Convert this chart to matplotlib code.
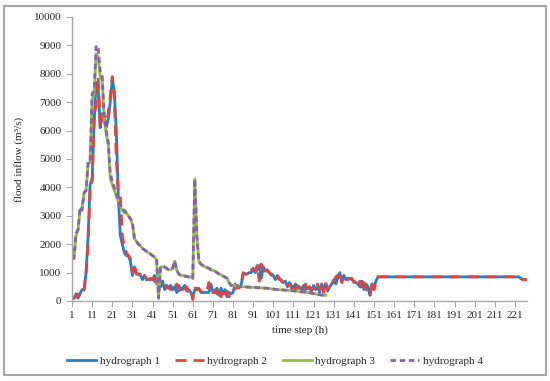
import matplotlib
matplotlib.use("Agg")
import matplotlib.pyplot as plt
from matplotlib.patches import Rectangle

# hourly flood inflow (m3/s)
h1 = [
    100, 100, 250, 100, 250, 400, 400, 1000, 2300, 4100,
    4300, 6300, 7700, 7500, 6100, 6600, 6500, 6100, 6400, 7000,
    7800, 7400, 6000, 3700, 2300, 2000, 1700, 1600, 1600, 1400,
    900, 1200, 950, 950, 900, 750, 900, 750, 750, 800,
    750, 900, 600, 600, 500, 700, 400, 550, 450, 550,
    400, 500, 300, 550, 400, 450, 550, 350, 400, 300,
    150, 400, 450, 400, 350, 300, 300, 300, 300, 600,
    300, 300, 450, 200, 450, 250, 400, 150, 300, 250,
    300, 600, 450, 500, 550, 950, 950, 950, 1000, 1000,
    1150, 1000, 1100, 1250, 800, 1200, 1050, 1100, 1000, 950,
    900, 750, 900, 800, 700, 650, 700, 500, 650, 550,
    450, 600, 450, 500, 400, 550, 400, 450, 500, 350,
    550, 400, 500, 300, 600, 400, 600, 350, 500, 600,
    750, 600, 800, 1000, 700, 900, 750, 800, 800, 750,
    700, 650, 600, 500, 700, 400, 600, 500, 200, 600,
    500, 700, 850, 850, 850, 850, 850, 850, 850, 850,
    850, 850, 850, 850, 850, 850, 850, 850, 850, 850,
    850, 850, 850, 850, 850, 850, 850, 850, 850, 850,
    850, 850, 850, 850, 850, 850, 850, 850, 850, 850,
    850, 850, 850, 850, 850, 850, 850, 850, 850, 850,
    850, 850, 850, 850, 850, 850, 850, 850, 850, 850,
    850, 850, 850, 850, 850, 850, 850, 850, 850, 850,
    850, 850, 850, 780, 750, 750, 750,
]
h2 = [
    100, 100, 150, 250, 150, 300, 400, 1000, 2000, 4000,
    4200, 6400, 7000, 7900, 6200, 6500, 6300, 6200, 6600, 7200,
    7900, 7200, 5000, 3800, 3700, 2300, 1900, 1700, 1600, 1500,
    1000, 1300, 950, 950, 950, 800, 900, 800, 750, 750,
    950, 700, 650, 550, 600, 550, 600, 450, 500, 400,
    500, 450, 600, 350, 500, 400, 450, 500, 300, 400,
    50, 450, 400, 450, 300, 300, 300, 350, 650, 300,
    300, 400, 250, 450, 150, 400, 250, 350, 150, 300,
    350, 450, 550, 450, 600, 1000, 950, 950, 950, 1100,
    1100, 1050, 1250, 700, 1300, 1000, 1100, 1050, 1000, 900,
    950, 800, 850, 750, 750, 600, 700, 550, 600, 450,
    600, 400, 550, 450, 500, 350, 600, 300, 500, 400,
    450, 350, 600, 400, 650, 300, 650, 400, 600, 700,
    650, 850, 900, 1050, 650, 850, 800, 750, 800, 800,
    650, 700, 550, 700, 400, 650, 450, 300, 150, 700,
    400, 650, 850, 850, 850, 850, 850, 850, 850, 850,
    850, 850, 850, 850, 850, 850, 850, 850, 850, 850,
    850, 850, 850, 850, 850, 850, 850, 850, 850, 850,
    850, 850, 850, 850, 850, 850, 850, 850, 850, 850,
    850, 850, 850, 850, 850, 850, 850, 850, 850, 850,
    850, 850, 850, 850, 850, 850, 850, 850, 850, 850,
    850, 850, 850, 850, 850, 850, 850, 850, 850, 850,
    850, 850, 850, 800, 750, 750, 750,
]
h3 = [
    1500, 1500, 2300, 2500, 3200, 3300, 3800, 3900, 4800, 4900,
    7100, 7300, 8700, 8600, 7900, 7800, 6400, 5900, 5500, 4300,
    4100, 3900, 3700, 3500, 3300, 3200, 3100, 3100, 3000, 2900,
    2700, 2200, 2100, 2000, 1950, 1850, 1800, 1750, 1700, 1650,
    1600, 1550, 1450, 100, 1200, 1200, 1200, 1150, 1100, 1100,
    1150, 1400, 1100, 950, 900, 900, 880, 860, 850, 850,
    800, 4300, 2300, 1400, 1300, 1250, 1200, 1180, 1150, 1100,
    1080, 1050, 1000, 950, 920, 880, 840, 800, 650, 550,
    550, 550, 530, 520, 510, 500, 500, 490, 490, 480,
    480, 480, 470, 470, 460, 460, 450, 450, 440, 430,
    420, 410, 400, 400, 390, 390, 380, 380, 370, 370,
    360, 350, 340, 330, 320, 320, 310, 300, 290, 280,
    260, 250, 230, 220, 210, 200, 200,
]
h4 = [
    1500, 1500, 2400, 2500, 3300, 3200, 3800, 3900, 4900, 4900,
    7300, 7400, 9000, 8900, 8100, 7900, 6600, 6000, 5600, 4500,
    4200, 4000, 3800, 3500, 3300, 3200, 3200, 3100, 3000, 2900,
    2800, 2200, 2100, 2000, 1950, 1850, 1800, 1750, 1700, 1650,
    1600, 1550, 1500, 100, 1200, 1200, 1200, 1150, 1100, 1100,
    1150, 1400, 1100, 950, 900, 900, 880, 860, 850, 850,
    800, 4300, 2300, 1400, 1300, 1250, 1200, 1180, 1150, 1100,
    1080, 1050, 1000, 950, 920, 880, 840, 800, 650, 550,
    550, 550, 530, 520, 510, 500, 500, 490, 490, 480,
    480, 480, 470, 470, 460, 460, 450, 450, 440, 430,
    420, 410, 400, 400, 390, 390, 380, 380, 370, 370,
    360, 350, 340, 330, 320, 320, 310, 300, 290, 280,
    260, 250, 230, 220, 210, 200, 200,
]
series = [("hydrograph 1", h1), ("hydrograph 2", h2),
          ("hydrograph 3", h3), ("hydrograph 4", h4)]
colors = ["#1E7FCB", "#E8413C", "#8CBF3F", "#8B5FB0"]
dashes = [None, (4, 2.5), None, (2, 1.3)]

plt.rcParams["font.family"] = ["Liberation Serif", "DejaVu Serif"]
txt = "#262626"

fig = plt.figure(figsize=(5.5, 3.81), dpi=100)
ax = fig.add_axes([72 / 550, 1 - 301 / 381, 455 / 550, 284 / 381])

for (name, vals), c, d in zip(series, colors, dashes):
    t = list(range(1, len(vals) + 1))
    line, = ax.plot(t, vals, color=c, lw=2.0, label=name)
    if d:
        line.set_dashes(d)

ax.set_xlim(1, 227)
ax.set_ylim(0, 10000)
ax.set_xticks(range(1, 222, 10))
ax.set_yticks(range(0, 10001, 1000))
for s in ("top", "right"):
    ax.spines[s].set_visible(False)
for s in ("left", "bottom"):
    ax.spines[s].set_color("#A6A6A6")
    ax.spines[s].set_linewidth(1.0)
ax.tick_params(colors="#A6A6A6", labelcolor=txt, labelsize=8, length=4)

ax.set_xlabel("time step (h)", fontsize=8, color=txt)
ax.xaxis.set_label_coords(0.5, -0.085)
ax.set_ylabel("flood inflow (m³/s)", fontsize=8, color=txt)
ax.yaxis.set_label_coords(-0.105, 0.5)

fig.legend(loc="center", bbox_to_anchor=(0.5, 1 - 361 / 381), ncol=4,
           frameon=False, fontsize=8, handlelength=2.6, columnspacing=1.4,
           handletextpad=0.3, labelcolor=txt)

fig.patches.append(Rectangle((4 / 550, 6 / 381), 542 / 550, 369 / 381,
                             transform=fig.transFigure, fill=False,
                             edgecolor="#A6A6A6", lw=1.5))

fig.savefig("out.png", dpi=100)
